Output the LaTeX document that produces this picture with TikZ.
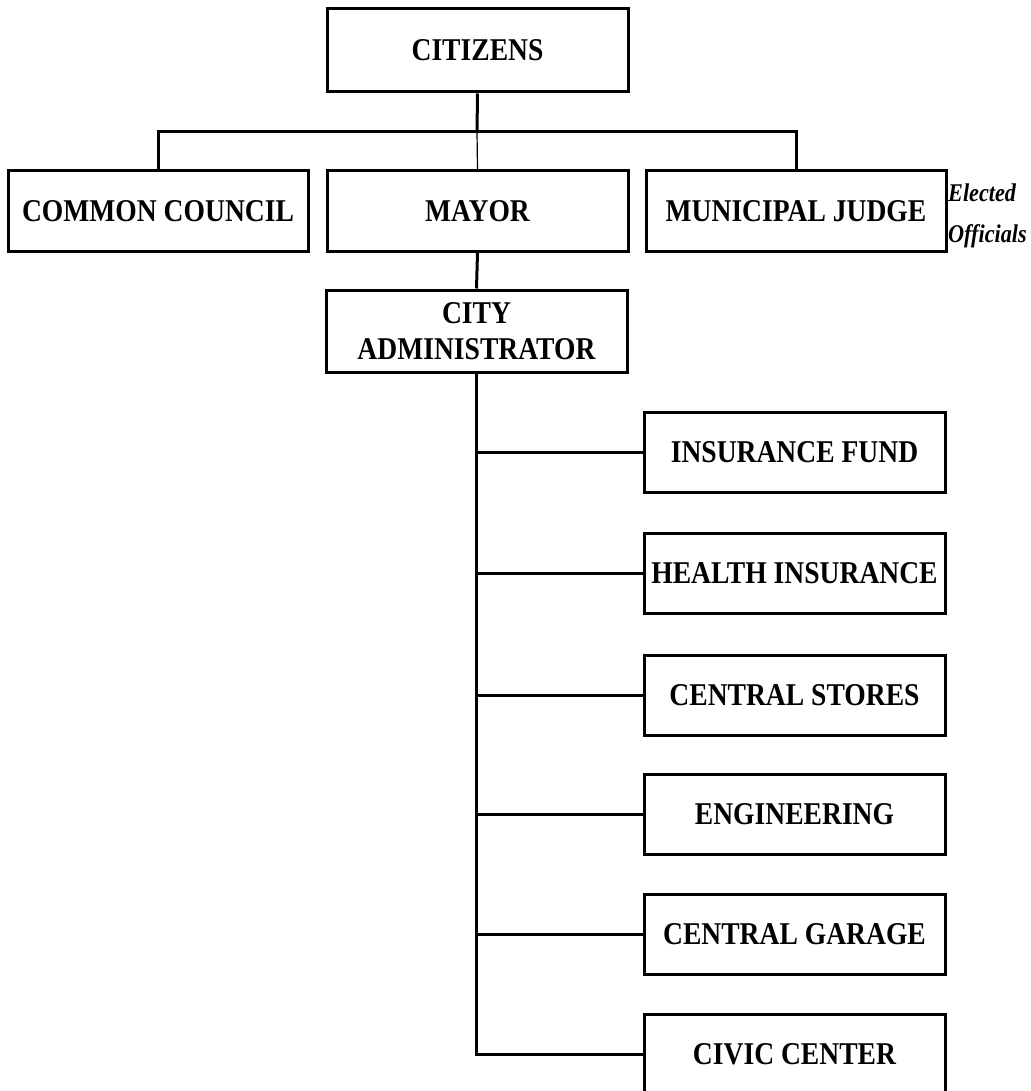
\documentclass[tikz,border=0pt]{standalone}
\usepackage{fontspec}
\setmainfont{Liberation Serif}[FakeStretch=0.87]
\begin{document}
\begin{tikzpicture}[x=1pt,y=-1pt,
  box/.style={draw=black, line width=3pt, fill=white, inner sep=0pt,
    minimum width=301pt, minimum height=80pt, align=center,
    font=\fontsize{31.7}{36}\selectfont\bfseries},
  link/.style={draw=black, line width=3pt},
  thinlink/.style={draw=black, line width=1.2pt},
  note/.style={inner sep=0pt, align=left,
    font=\fontsize{25.5}{41}\selectfont\bfseries\itshape}]
\useasboundingbox (0,0) rectangle (1030,1091);
\fill[white] (0,0) rectangle (1030,1091);
\clip (0,0) rectangle (1030,1091);

% elected level
\node[box, minimum height=83pt] (cit) at (477.5,50.5) {CITIZENS};
\node[box, minimum width=300pt] (cc) at (158,211) {COMMON COUNCIL};
\node[box] (mayor) at (477.5,211) {MAYOR};
\node[box, minimum width=300pt] (judge) at (796,211) {MUNICIPAL JUDGE};
\node[note, anchor=west] (elect) at (948,216) {Elected\\Officials};

% administration
\node[box, minimum height=82pt] (admin) at (476.5,331) {CITY\\[-0.5pt]ADMINISTRATOR};

% departments
\node[box] (ins) at (794.5,452.5) {INSURANCE FUND};
\node[box] (health) at (794.5,573) {HEALTH INSURANCE};
\node[box] (stores) at (794.5,695) {CENTRAL STORES};
\node[box] (eng) at (794.5,814) {ENGINEERING};
\node[box] (garage) at (794.5,934.5) {CENTRAL GARAGE};
\node[box] (civic) at (794.5,1054) {CIVIC CENTER};

% connectors
\coordinate (bus) at (477,132);
\draw[link] (cit.south) -- (bus);
\draw[link] (cc.north) -- (cc.north |- bus) -- (judge.north |- bus) -- (judge.north);
\draw[thinlink] (bus) -- (mayor.north);
\draw[link] (mayor.south) -- (admin.north);
\draw[link] (admin.south) |- (civic.west);
\foreach \d in {ins,health,stores,eng,garage}
  \draw[link] (admin.south |- \d.west) -- (\d.west);
\end{tikzpicture}
\end{document}
